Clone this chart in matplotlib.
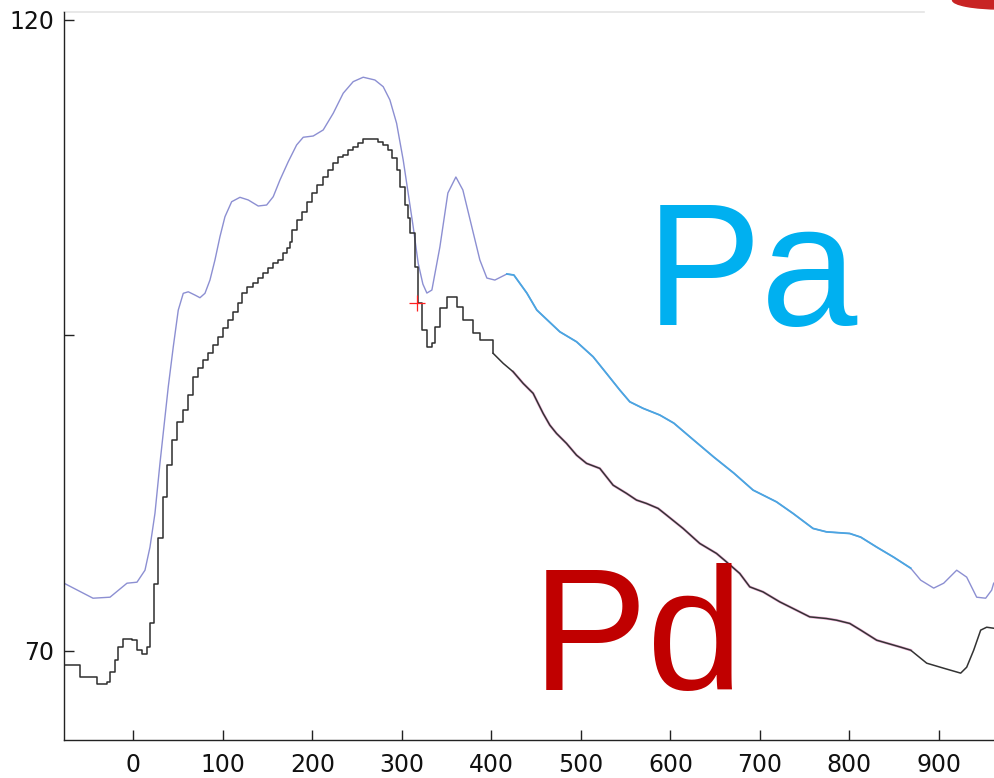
import matplotlib
matplotlib.use('Agg')
import matplotlib.pyplot as plt
from matplotlib.patches import Ellipse
import numpy as np

# upper trace (Pa)
pa_x = [-77.39, -45.00, -26.02, -7.04, 4.13, 13.07, 18.65, 24.23, 29.82, 39.08, 44.67, 50.25,
        55.83, 61.42, 68.90, 74.48, 80.07, 85.65, 91.23, 96.82, 102.40, 109.88, 119.15, 128.42,
        139.59, 148.97, 156.34, 163.82, 173.09, 182.47, 189.84, 201.00, 212.17, 223.34, 234.50,
        245.67, 256.84, 269.90, 279.17, 286.65, 294.14, 301.51, 307.09, 312.67, 318.26, 323.51,
        327.97, 333.56, 342.49, 351.42, 360.36, 368.17, 378.22, 387.16, 394.98, 403.91, 417.31,
        425.12, 439.64, 450.81, 476.49, 495.14, 513.68, 528.64, 543.49, 554.66, 569.51, 588.16,
        603.79, 626.13, 648.46, 670.80, 692.35, 718.48, 737.02, 759.35, 774.31, 800.33, 812.62,
        830.48, 849.47, 868.45, 879.62, 894.13, 905.30, 919.82, 930.99, 942.15, 952.20, 958.90,
        961.14]
pa_y = [75.35, 74.16, 74.24, 75.35, 75.43, 76.38, 78.21, 80.90, 84.87, 90.92, 94.09, 97.00,
        98.33, 98.45, 98.19, 97.98, 98.33, 99.38, 100.97, 102.82, 104.40, 105.59, 105.94, 105.73,
        105.25, 105.33, 105.99, 107.31, 108.76, 110.09, 110.70, 110.80, 111.28, 112.60, 114.19,
        115.11, 115.46, 115.24, 114.71, 113.66, 111.81, 108.90, 106.26, 103.61, 100.71, 99.06,
        98.35, 98.59, 102.00, 106.28, 107.55, 106.52, 103.58, 100.97, 99.54, 99.38, 99.86,
        99.78, 98.35, 97.00, 95.28, 94.49, 93.30, 91.98, 90.66, 89.73, 89.21, 88.68,
        88.04, 86.69, 85.35, 84.08, 82.73, 81.80, 80.88, 79.69, 79.42, 79.29, 79.00,
        78.21, 77.41, 76.54, 75.59, 74.96, 75.35, 76.38, 75.83, 74.24, 74.16, 74.80,
        75.35]

# lower trace (Pd), a staircase in the picture
pd_x = [-76.27, -59.52, -40.54, -29.37, -26.02, -20.44, -17.09, -11.50, -1.45, 4.13, 9.72, 15.30,
        18.65, 23.12, 27.58, 33.17, 37.63, 43.22, 48.80, 55.50, 61.08, 67.00, 72.58, 78.17,
        83.75, 89.34, 94.92, 100.50, 106.09, 111.67, 117.25, 121.05, 126.63, 134.00, 139.59,
        145.17, 150.75, 156.34, 161.92, 167.50, 171.30, 174.99, 176.88, 182.47, 188.05, 193.63,
        199.22, 204.80, 212.17, 217.75, 223.34, 228.92, 234.50, 240.09, 245.67, 251.26, 256.84,
        268.01, 273.59, 279.17, 284.76, 288.55, 294.14, 297.82, 303.40, 307.09, 308.99, 314.57,
        317.59, 318.26, 322.39, 327.97, 333.56, 336.91, 342.49, 350.31, 355.89, 361.47, 368.17,
        379.34, 387.16, 402.01, 413.18, 424.34, 435.51, 446.68, 452.26, 457.84, 465.32, 472.81,
        483.97, 495.14, 506.31, 521.16, 528.64, 536.01, 550.98, 562.14, 573.31, 586.26, 595.64,
        614.18, 632.83, 651.48, 662.64, 677.50, 688.66, 703.51, 722.16, 740.81, 755.66, 774.31,
        785.48, 800.33, 812.62, 830.48, 857.28, 868.45, 886.32, 905.30, 924.29, 930.99, 938.81,
        946.63, 953.32, 961.14]
pd_y = [68.85, 67.90, 67.34, 67.50, 68.30, 69.25, 70.28, 70.91, 70.83, 70.04, 69.72, 70.28,
        72.18, 75.27, 78.92, 82.17, 84.71, 86.69, 88.12, 89.07, 90.26, 91.71, 92.38, 93.04,
        93.57, 94.23, 94.89, 95.55, 96.21, 96.87, 97.53, 98.33, 98.85, 99.12, 99.52,
        99.91, 100.31, 100.71, 100.97, 101.50, 101.90, 102.42, 103.35, 104.14, 104.80, 105.59,
        106.26, 106.92, 107.57, 108.10, 108.64, 109.16, 109.29, 109.69, 109.90, 110.22, 110.54,
        110.54, 110.35, 110.09, 109.69, 109.03, 108.10, 106.78, 105.33, 104.27, 103.08, 100.44,
        98.33, 97.53, 95.42, 94.07, 94.39, 95.65, 97.16, 98.03, 98.03, 97.24, 96.21,
        95.18, 94.62, 93.57, 92.78, 92.11, 91.19, 90.40, 89.60, 88.81, 87.88, 87.22,
        86.43, 85.50, 84.85, 84.45, 83.78, 83.12, 82.47, 81.94, 81.67, 81.28, 80.75,
        79.69, 78.50, 77.71, 77.04, 76.12, 75.06, 74.66, 73.87, 73.21, 72.68, 72.55,
        72.42, 72.16, 71.63, 70.83, 70.28, 70.04, 69.01, 68.61, 68.22, 68.69, 70.04,
        71.63, 71.86, 71.78]

# cursor mark
mark_x = [317.0]
mark_y = [97.56]

xticks = [0, 100, 200, 300, 400, 500, 600, 700, 800, 900]
yticks = [70, 95, 120]
ylabels = ['70', '', '120']

pa_x = np.array(pa_x); pa_y = np.array(pa_y)
pd_x = np.array(pd_x); pd_y = np.array(pd_y)

fig = plt.figure(figsize=(9.94, 7.78), dpi=100)
ax = fig.add_axes([64/994, 38/778, 1 - 64/994, (740 - 12)/778])

# Pa: lavender everywhere, blue over the middle part
ax.plot(pa_x, pa_y, color='#8c8fd2', lw=1.0)
sel = (pa_x >= 417) & (pa_x <= 870)
ax.plot(pa_x[sel], pa_y[sel], color='#4aa6e2', lw=1.3)

# Pd: big stairs up to ~400, the small stairs after that are drawn as a plain line
left = pd_x <= 402.1
right = pd_x >= 402.0
pink = (pd_x >= 424) & (pd_x <= 870)
ax.plot(pd_x[pink], pd_y[pink], color='#e070b8', lw=1.9, alpha=0.55)
ax.plot(pd_x[left], pd_y[left], color='#2e2e2e', lw=1.1, drawstyle='steps-post')
ax.plot(pd_x[right], pd_y[right], color='#333333', lw=1.1)

ax.plot(mark_x, mark_y, marker='+', color='#ff2020', ms=12, mew=0.9, ls='none')

ax.set_xlim(-77.4, 961.5)
ax.set_ylim(62.92, 120.63)
ax.set_xticks(xticks)
ax.set_yticks(yticks)
ax.set_yticklabels(ylabels)

for s in ['right', 'top']:
    ax.spines[s].set_visible(False)
for s in ['left', 'bottom']:
    ax.spines[s].set_color('#222222')
    ax.spines[s].set_linewidth(1.0)
# faint top border
ax.plot([0, (924 - 64)/930], [1.0, 1.0], transform=ax.transAxes, color='#e4e4e4',
        lw=1.2, clip_on=False)

ax.tick_params(axis='both', direction='in', length=7, width=1.0, color='#222222',
               labelsize=17, labelcolor='#111111')
ax.tick_params(axis='x', pad=9)
ax.tick_params(axis='y', pad=7)

ax.text(572, 95.8, 'Pa', color='#00b0f0', fontsize=125, family='Liberation Sans',
        va='baseline', ha='left')
ax.text(445, 66.87, 'Pd', color='#c00000', fontsize=125, family='Liberation Sans',
        va='baseline', ha='left')

# red blob cut off at the top right corner
fig.patches.append(Ellipse((1000, 778), 95, 18, transform=None, color='#c82424'))

fig.savefig('out.png', dpi=100)
